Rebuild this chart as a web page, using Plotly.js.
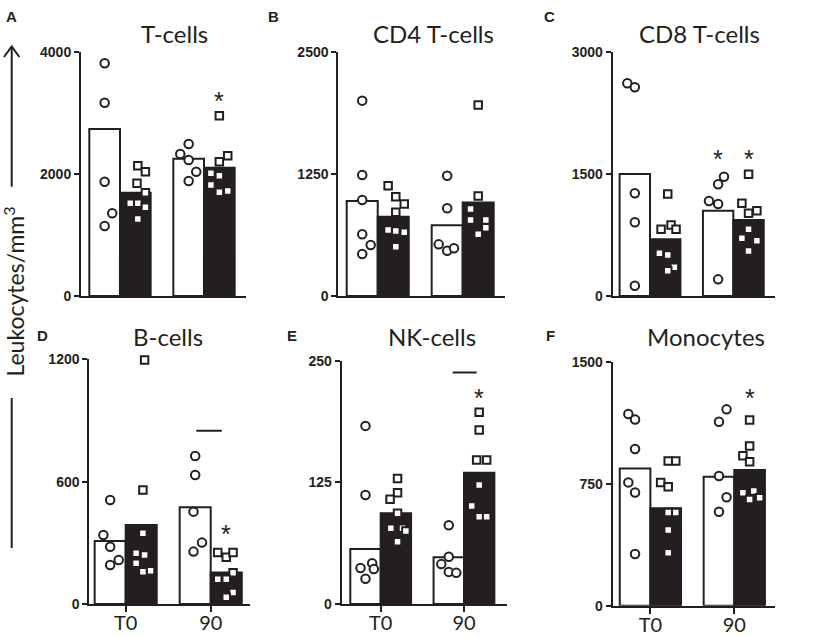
<!DOCTYPE html>
<html><head><meta charset="utf-8">
<script src="https://cdn.plot.ly/plotly-3.0.1.min.js"></script>
<style>html,body{margin:0;padding:0;background:#fff}#chart{width:827px;height:637px}</style>
</head><body><div id="chart"></div><script>
// ---------- data ----------
const groups = ['T0', '90'];
const panelTitles = ['T-cells', 'CD4 T-cells', 'CD8 T-cells', 'B-cells', 'NK-cells', 'Monocytes'];
const panelLetters = ['A', 'B', 'C', 'D', 'E', 'F'];
const yMax = [4000, 2500, 3000, 1200, 250, 1500];
const yTicks = [[0, 2000, 4000], [0, 1250, 2500], [0, 1500, 3000], [0, 600, 1200], [0, 125, 250], [0, 750, 1500]];
// bar heights [T0, 90]
const whiteBars = [[2741, 2254], [975, 725], [1502, 1050], [309, 474], [56.5, 48], [846, 795]];
const blackBars = [[1696, 2106], [814, 958], [698, 936], [387, 154], [93.2, 134.9], [600, 836]];
// individual values (circles = white group, squares = black group)
const circlesT0 = [
  [3819, 3173, 1876, 1357, 1149],
  [2004, 1242, 985, 633, 523, 431],
  [2618, 2569, 1264, 907, 127],
  [510, 338, 281, 216, 191],
  [183, 112, 42, 37, 36, 26],
  [1181, 1148, 966, 760, 698, 319]
];
const circlesT0Jitter = [
  [0, 0, 0, 0.09, 0],
  [0, 0, 0, 0, 0.1, 0],
  [-0.09, 0, 0, 0, 0],
  [0, -0.08, 0, 0.1, 0],
  [0, 0, 0.08, -0.06, 0.1, 0],
  [-0.08, 0, 0, -0.08, 0, 0]
];
const squaresT0 = [
  [2139, 2040, 1850, 1696, 1522, 1522, 1456, 1264],
  [1132, 1019, 944, 859, 677, 667, 653, 506],
  [1256, 874, 821, 821, 525, 505, 353, 311],
  [1197, 559, 347, 249, 240, 200, 163, 158],
  [129, 114.4, 107.6, 93.2, 77.8, 77.8, 75, 64],
  [892, 892, 760, 733, 575, 575, 467, 327]
];
const squaresT0Jitter = [
  [0.03, 0.12, 0.02, 0.12, -0.06, 0.03, 0.12, 0.03],
  [-0.06, 0.03, 0.13, 0.03, -0.06, 0.03, 0.13, 0.03],
  [0.03, 0.07, -0.05, 0.13, -0.07, 0.03, 0.11, 0.03],
  [0.04, 0.02, 0.02, -0.06, 0.04, -0.06, 0.11, 0.02],
  [0.02, 0.02, -0.07, 0.02, -0.06, 0.08, 0.12, 0.02],
  [0.03, 0.12, -0.06, 0.03, 0.03, 0.12, 0.03, 0.03]
];
const circles90 = [
  [2495, 2331, 2232, 2040, 1888],
  [1234, 900, 530, 465, 489],
  [1469, 1375, 1169, 1133, 205],
  [726, 633, 453, 301, 257],
  [81, 48.6, 41, 33, 32],
  [1210, 1134, 799, 668, 579]
];
const circles90Jitter = [
  [0, -0.1, 0, 0.09, 0],
  [0, 0, -0.1, 0, 0.08],
  [0.07, 0, -0.11, 0, 0],
  [0, 0, -0.02, 0.08, -0.02],
  [0, 0, -0.09, 0, 0.09],
  [0.09, 0, 0, 0.09, 0]
];
const squares90 = [
  [2960, 2303, 2205, 2014, 1975, 1822, 1724, 1702],
  [1960, 1026, 893, 780, 780, 701, 633],
  [1498, 1141, 1050, 1018, 821, 710, 681, 554],
  [252, 229, 252, 153, 121, 121, 56, 33],
  [197, 178.8, 148, 148, 122.3, 100.7, 89.7, 89.7],
  [1144, 984, 924, 887, 707, 696, 666, 655]
];
const squares90Jitter = [
  [0, 0.1, 0, -0.1, 0, -0.1, 0.1, 0],
  [0, 0, -0.09, -0.09, 0.09, 0.09, 0],
  [0, -0.08, 0.1, 0, 0, -0.08, 0.1, 0],
  [-0.1, 0, 0.08, 0.08, -0.1, 0, 0.08, 0],
  [0, 0, -0.03, 0.09, 0, -0.09, 0, 0.09],
  [0, 0, -0.08, 0, 0.05, -0.08, 0.12, 0]
];
// significance asterisks: [panel, group index, side (0 white / 1 black), value]
const starPanels = [0, 2, 2, 3, 4, 5];
const starGroups = [1, 1, 1, 1, 1, 1];
const starSides = [1, 0, 1, 1, 1, 1];
const starValues = [3299, 1757, 1757, 371, 218, 1319];
// horizontal comparison bars: panel, from, to (group units), value
const sigPanels = [3, 4];
const sigFrom = [0.83, 0.864];
const sigTo = [1.13, 1.152];
const sigValues = [850, 238];

// ---------- layout geometry ----------
const W = 827, H = 637;
const INK = '#231f20';
const pxDomX = [[81, 246], [338.3, 505], [612.7, 775], [89.3, 250], [341.7, 506.7], [612.7, 775]];
const pxDomY = [[52.3, 296], [52.3, 296], [52.3, 296], [359.3, 604], [360.7, 604], [362.3, 605.7]];
const xRanges = [[-0.464, 1.5], [-0.464, 1.498], [-0.448, 1.5], [-0.428, 1.462], [-0.468, 1.513], [-0.449, 1.485]];
const titlePos = [[174, 33], [433.5, 33], [699.5, 33], [168, 336.5], [432, 336], [705.5, 336]];
const letterPos = [[11.7, 16.7], [273, 16.7], [549, 16.7], [42, 335], [291.7, 335], [550, 335]];
const bargap = 0.27;
const side = (1 - bargap) / 4;

const data = [];
const layout = {
  width: W, height: H, margin: {l: 0, r: 0, t: 0, b: 0},
  paper_bgcolor: '#fff', plot_bgcolor: 'rgba(0,0,0,0)',
  showlegend: false, barmode: 'group', bargap: bargap, bargroupgap: 0,
  annotations: [], shapes: []
};

for (let p = 0; p < 6; p++) {
  const s = p === 0 ? '' : String(p + 1);
  const xa = 'x' + s, ya = 'y' + s;
  const bottom = p >= 3;
  data.push({type: 'bar', x: [0, 1], y: whiteBars[p], xaxis: xa, yaxis: ya,
    marker: {color: '#fff', line: {color: INK, width: 2}}, hoverinfo: 'skip'});
  data.push({type: 'bar', x: [0, 1], y: blackBars[p], xaxis: xa, yaxis: ya,
    marker: {color: INK, line: {color: INK, width: 2}}, hoverinfo: 'skip'});
  const addPts = (vals, jit, gi, sd, symbol, size) => data.push({
    type: 'scatter', mode: 'markers', xaxis: xa, yaxis: ya, cliponaxis: false,
    x: vals.map((v, k) => gi + sd + jit[k]), y: vals, hoverinfo: 'skip',
    marker: {symbol: symbol, size: size, color: '#fff', line: {color: INK, width: 2}}
  });
  addPts(circlesT0[p], circlesT0Jitter[p], 0, -side, 'circle', 8.5);
  addPts(squaresT0[p], squaresT0Jitter[p], 0, side, 'square', 7.5);
  addPts(circles90[p], circles90Jitter[p], 1, -side, 'circle', 8.5);
  addPts(squares90[p], squares90Jitter[p], 1, side, 'square', 7.5);

  const xax = {
    domain: [pxDomX[p][0] / W, pxDomX[p][1] / W], range: xRanges[p], anchor: ya,
    showline: true, linecolor: INK, linewidth: 2, showgrid: false, zeroline: false,
    tickvals: [0, 1], ticks: bottom ? 'outside' : '', ticklen: 6, tickwidth: 2, tickcolor: INK,
    showticklabels: bottom, fixedrange: true
  };
  if (bottom) {
    xax.ticktext = groups;
    xax.tickfont = {family: 'Lato', size: 20, color: INK};
    xax.ticklabelstandoff = -6;
  }
  layout['xaxis' + s] = xax;
  layout['yaxis' + s] = {
    domain: [1 - pxDomY[p][1] / H, 1 - pxDomY[p][0] / H], range: [0, yMax[p]], anchor: xa,
    showline: true, linecolor: INK, linewidth: 2, showgrid: false, zeroline: false,
    tickvals: yTicks[p], ticktext: yTicks[p].map(v => '<b>' + v + '</b>'),
    ticks: 'outside', ticklen: 5, tickwidth: 2, tickcolor: INK,
    tickfont: {family: 'Liberation Sans', size: 14, color: INK}, fixedrange: true
  };
  layout.annotations.push({xref: 'paper', yref: 'paper', x: titlePos[p][0] / W, y: 1 - titlePos[p][1] / H,
    xanchor: 'center', yanchor: 'middle', showarrow: false, text: panelTitles[p],
    font: {family: 'Lato', size: 24, color: INK}});
  layout.annotations.push({xref: 'paper', yref: 'paper', x: letterPos[p][0] / W, y: 1 - letterPos[p][1] / H,
    xanchor: 'center', yanchor: 'middle', showarrow: false, text: '<b>' + panelLetters[p] + '</b>',
    font: {family: 'Liberation Sans', size: 15, color: INK}});
}

for (let i = 0; i < starPanels.length; i++) {
  const p = starPanels[i], s = p === 0 ? '' : String(p + 1);
  layout.annotations.push({xref: 'x' + s, yref: 'y' + s,
    x: starGroups[i] + (starSides[i] ? side : -side), y: starValues[i],
    xanchor: 'center', yanchor: 'middle', yshift: -6, showarrow: false, text: '*',
    font: {family: 'Liberation Sans', size: 25, color: INK}});
}
for (let i = 0; i < sigPanels.length; i++) {
  const p = sigPanels[i], s = p === 0 ? '' : String(p + 1);
  layout.shapes.push({type: 'line', xref: 'x' + s, yref: 'y' + s, x0: sigFrom[i], x1: sigTo[i],
    y0: sigValues[i], y1: sigValues[i], line: {color: INK, width: 2}});
}

// y-axis label with arrow
const px = (v) => v / W, py = (v) => 1 - v / H;
layout.annotations.push({xref: 'paper', yref: 'paper', x: px(14), y: py(291.5), xanchor: 'center', yanchor: 'middle',
  textangle: -90, showarrow: false, text: 'Leukocytes/mm<sup>3</sup>', font: {family: 'Lato', size: 23, color: INK}});
layout.shapes.push({type: 'line', xref: 'paper', yref: 'paper', x0: px(11.7), x1: px(11.7), y0: py(186.7), y1: py(47),
  line: {color: INK, width: 2}});
layout.shapes.push({type: 'path', xref: 'paper', yref: 'paper',
  path: 'M' + px(4) + ',' + py(57) + ' L' + px(11.7) + ',' + py(46.5) + ' L' + px(19.4) + ',' + py(57),
  line: {color: INK, width: 2}});
layout.shapes.push({type: 'line', xref: 'paper', yref: 'paper', x0: px(11.7), x1: px(11.7), y0: py(398), y1: py(548),
  line: {color: INK, width: 2}});

Plotly.newPlot('chart', data, layout, {staticPlot: true, displayModeBar: false});
</script></body></html>
